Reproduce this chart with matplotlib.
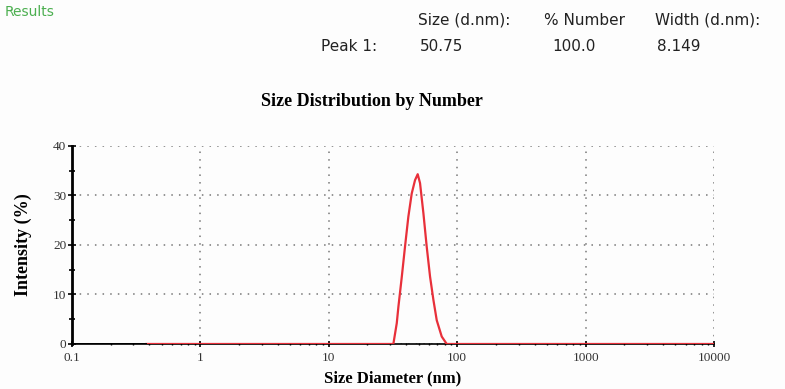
import numpy as np
import matplotlib
matplotlib.use("Agg")
import matplotlib.pyplot as plt
from matplotlib.ticker import FixedLocator, LogLocator, NullFormatter

# peak (size in nm, number %)
size_nm = [0.38, 31.8, 33.8, 34.8, 37.0, 39.2, 41.6, 44.2, 46.9, 49.2, 51.3,
           54.5, 57.8, 61.4, 65.2, 69.2, 75.7, 82.8, 10000]
number_pct = [0, 0, 4.2, 7.5, 13.6, 19.7, 25.7, 30.4, 33.1, 34.3, 32.5,
              26.4, 19.7, 13.6, 8.9, 4.8, 1.5, 0, 0]

x_ticks = [0.1, 1, 10, 100, 1000, 10000]
x_labels = ["0.1", "1", "10", "100", "1000", "10000"]
y_ticks = [0, 10, 20, 30, 40]

header = ["Size (d.nm):", "% Number", "Width (d.nm):"]
peak_row = ["Peak 1:", "50.75", "100.0", "8.149"]

fig = plt.figure(figsize=(7.85, 3.89), dpi=100)
fig.patch.set_facecolor("#fdfdfd")
ax = fig.add_axes([0.0917, 0.1157, 0.818, 0.509])
ax.set_facecolor("#fdfdfd")

ax.plot(size_nm, number_pct, color="#e8303a", lw=1.6, zorder=3)
ax.plot([0.1, 0.38], [0, 0], color="black", lw=1.4, zorder=3)

ax.set_xscale("log")
ax.set_xlim(0.1, 10000)
ax.set_ylim(0, 40)
ax.xaxis.set_major_locator(FixedLocator(x_ticks))
ax.set_xticklabels(x_labels)
ax.xaxis.set_minor_locator(LogLocator(base=10, subs=np.arange(2, 10)))
ax.xaxis.set_minor_formatter(NullFormatter())
ax.set_yticks(y_ticks)
ax.yaxis.set_minor_locator(FixedLocator([5, 15, 25, 35]))

for s in ["top", "right"]:
    ax.spines[s].set_visible(False)
ax.spines["left"].set_linewidth(2)
ax.spines["bottom"].set_linewidth(1.2)

ax.tick_params(axis="y", which="major", direction="inout", length=6, width=1.2,
               labelsize=9.5, pad=1)
ax.tick_params(axis="y", which="minor", direction="inout", length=5, width=1.2)
ax.tick_params(axis="x", which="major", direction="inout", length=5, width=1.2,
               labelsize=9.5, pad=3)
ax.tick_params(axis="x", which="minor", direction="inout", length=2, width=1)
for lab in ax.get_xticklabels() + ax.get_yticklabels():
    lab.set_family("Liberation Serif")
    lab.set_color("#333333")

ax.grid(True, which="major", color="#777777", lw=1.1, linestyle=(0, (1, 4)))

ax.set_xlabel("Size Diameter (nm)", family="Liberation Serif", fontweight="bold",
              fontsize=12, labelpad=5)
ax.set_ylabel("Intensity (%)", family="Liberation Serif", fontweight="bold",
              fontsize=13, labelpad=15)
fig.text(0.474, 0.74, "Size Distribution by Number", family="Liberation Serif",
         fontweight="bold", fontsize=13, ha="center", va="center")

# results header
fig.text(0.006, 0.968, "Results", color="#4caf50", fontsize=10, ha="left", va="center")
for xp, t in zip([0.532, 0.693, 0.834], header):
    fig.text(xp, 0.948, t, fontsize=11, ha="left", va="center", color="#222222")
for xp, t in zip([0.409, 0.535, 0.703, 0.837], peak_row):
    fig.text(xp, 0.881, t, fontsize=11, ha="left", va="center", color="#222222")

fig.savefig("out.png", dpi=100, facecolor=fig.get_facecolor())
